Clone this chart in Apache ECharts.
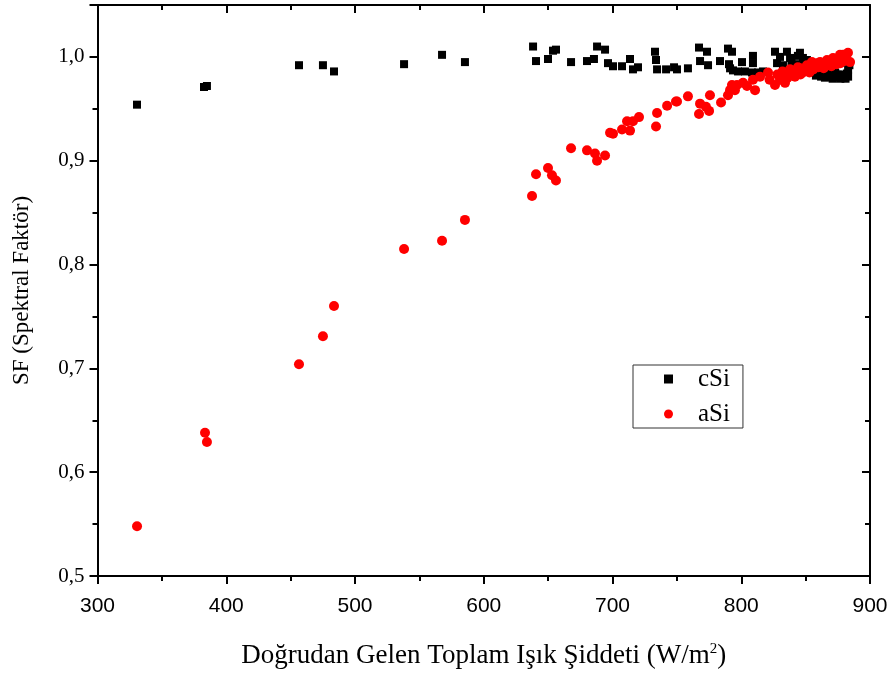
<!DOCTYPE html>
<html>
<head>
<meta charset="utf-8">
<script src="https://cdn.jsdelivr.net/npm/echarts@6/dist/echarts.min.js"></script>
<style>
html,body{margin:0;padding:0;background:#fff;}
#chart{width:894px;height:674px;}
</style>
</head>
<body>
<div id="chart"></div>
<script>
// ---- data ----
var cSiX = [330.7,382.7,385.0,456.5,475.1,483.7,538.1,567.6,585.4,638.3,640.6,649.9,653.8,656.1,667.8,680.2,685.6,688.0,694.2,696.5,700.4,707.4,713.6,715.9,719.8,733.0,733.8,734.6,741.6,747.8,750.1,758.6,767.2,773.4,768.0,774.2,783.5,789.7,792.8,790.5,791.3,793.6,800.6,797.5,802.9,809.1,809.1,808.3,813.0,816.9,826.2,830.1,835.5,837.9,845.6,847.9,827.8,832.4,839,842,844,848,851,853,855,858,856,858,860,862,864,865,867,868,869,870,871,872,873,874,875,876,877,878,879,880,881,882,883,883,884];
var cSiY = [0.954,0.971,0.972,0.992,0.992,0.986,0.993,1.002,0.995,1.010,0.996,0.998,1.006,1.007,0.995,0.996,0.998,1.010,1.007,0.994,0.991,0.991,0.998,0.988,0.990,1.005,0.997,0.988,0.988,0.990,0.988,0.989,1.009,1.005,0.996,0.992,0.996,1.008,1.005,0.993,0.989,0.987,0.995,0.986,0.986,1.001,0.994,0.985,0.985,0.986,1.005,1.000,1.005,0.999,1.004,0.999,0.994,0.992,0.996,0.993,1.001,0.995,0.997,0.992,0.989,0.993,0.985,0.982,0.986,0.981,0.984,0.980,0.983,0.986,0.981,0.984,0.979,0.982,0.985,0.980,0.983,0.981,0.979,0.983,0.980,0.982,0.979,0.984,0.981,0.988,0.992];
var aSiX = [330.7,383.5,385.0,456.5,475.1,483.7,538.1,567.6,585.4,637.5,640.6,649.9,653.0,656.1,667.8,680.2,686.4,688.0,694.2,698.1,700.4,707.4,713.6,711.3,715.9,720.6,733.8,734.6,742.4,749.3,750.1,758.6,767.2,768.0,772.6,775.0,775.7,784.3,789.7,791.3,792.8,796.7,795.1,801.4,804.5,809.1,810.7,814.6,820.8,826.2,830.1,834.0,835.5,837.9,841.7,843.3,845.6,847.9,851.0,854.9,858.8,861.2,866.6,871.3,876.7,882.9,884.5,822,828,832,836,840,844,846,849,852,853,856,857,860,862,864,866,868,870,872,874,875,877,878,880,881,879];
var aSiY = [0.548,0.638,0.629,0.704,0.731,0.760,0.815,0.823,0.843,0.866,0.887,0.893,0.886,0.881,0.912,0.910,0.907,0.900,0.905,0.927,0.926,0.930,0.929,0.938,0.938,0.942,0.933,0.946,0.953,0.957,0.957,0.962,0.945,0.955,0.952,0.948,0.963,0.956,0.963,0.968,0.973,0.973,0.968,0.975,0.972,0.978,0.968,0.981,0.985,0.973,0.978,0.975,0.985,0.988,0.981,0.986,0.989,0.985,0.992,0.995,0.994,0.995,0.997,0.999,1.002,1.004,0.995,0.978,0.983,0.986,0.980,0.984,0.990,0.983,0.987,0.990,0.985,0.988,0.992,0.990,0.993,0.989,0.992,0.994,0.991,0.995,0.993,0.997,0.994,0.998,0.996,1.000,1.002];
var xTicks = {min:300, max:900, interval:100};
var yTicks = {min:0.5, max:1.05, interval:0.1};

function pairs(xs, ys){ return xs.map(function(x,i){ return [x, ys[i]]; }); }

var serif = '"Liberation Serif","DejaVu Serif",serif';
var sans = '"Liberation Sans",Arial,sans-serif';
var axisLine = {show:true, onZero:false, lineStyle:{color:'#000', width:2}};

var chart = echarts.init(document.getElementById('chart'), null, {renderer:'canvas'});
chart.setOption({
  animation:false,
  backgroundColor:'#fff',
  grid:{left:97.5, right:24, top:5, bottom:97, containLabel:false},
  xAxis:[{
    type:'value', position:'bottom', min:xTicks.min, max:xTicks.max, interval:xTicks.interval,
    axisLine:axisLine,
    axisTick:{show:true, inside:false, length:8, lineStyle:{color:'#000', width:2}},
    minorTick:{show:true, splitNumber:2, length:5, lineStyle:{color:'#000', width:2}},
    splitLine:{show:false},
    axisLabel:{color:'#000', fontFamily:sans, fontSize:21, margin:20},
    name:'{a|Doğrudan Gelen Toplam Işık Şiddeti (W/m}{s|2}{a|)}',
    nameLocation:'middle', nameGap:66,
    nameTextStyle:{rich:{
      a:{fontFamily:serif, fontSize:27, color:'#000'},
      s:{fontFamily:serif, fontSize:15, color:'#000', verticalAlign:'top', padding:[0,0,12,0]}
    }}
  },{
    type:'value', position:'top', min:xTicks.min, max:xTicks.max, interval:xTicks.interval,
    axisLine:axisLine,
    axisTick:{show:true, inside:true, length:8, lineStyle:{color:'#000', width:2}},
    minorTick:{show:true, splitNumber:2, length:5, lineStyle:{color:'#000', width:2}},
    splitLine:{show:false}, axisLabel:{show:false}
  }],
  yAxis:[{
    type:'value', position:'left', min:yTicks.min, max:yTicks.max, interval:yTicks.interval,
    axisLine:axisLine,
    axisTick:{show:true, inside:false, length:8, lineStyle:{color:'#000', width:2}},
    minorTick:{show:true, splitNumber:2, length:5, lineStyle:{color:'#000', width:2}},
    splitLine:{show:false},
    axisLabel:{color:'#000', fontFamily:serif, fontSize:21, margin:13, showMaxLabel:false,
      formatter:function(v){ return v.toFixed(1).replace('.', ','); }},
    name:'SF (Spektral Faktör)', nameLocation:'middle', nameGap:64,
    nameTextStyle:{fontFamily:serif, fontSize:23, color:'#000'}
  },{
    type:'value', position:'right', min:yTicks.min, max:yTicks.max, interval:yTicks.interval,
    axisLine:axisLine,
    axisTick:{show:true, inside:true, length:8, lineStyle:{color:'#000', width:2}},
    minorTick:{show:true, splitNumber:2, length:5, lineStyle:{color:'#000', width:2}},
    splitLine:{show:false}, axisLabel:{show:false}
  }],
  legend:{
    orient:'vertical', left:633, top:365,
    padding:[1,13,1,31], itemGap:9,
    borderColor:'#333', borderWidth:1, backgroundColor:'#fff',
    itemWidth:9, itemHeight:9,
    textStyle:{fontFamily:serif, fontSize:25, color:'#000', lineHeight:26, padding:[0,0,0,20]},
    data:[{name:'cSi', icon:'rect'},{name:'aSi', icon:'circle'}]
  },
  series:[{
    name:'cSi', type:'scatter', xAxisIndex:0, yAxisIndex:0,
    symbol:'rect', symbolSize:8, itemStyle:{color:'#000', opacity:1},
    data:pairs(cSiX, cSiY)
  },{
    name:'aSi', type:'scatter', xAxisIndex:0, yAxisIndex:0,
    symbol:'circle', symbolSize:10, itemStyle:{color:'#ff0000', opacity:1},
    data:pairs(aSiX, aSiY)
  }]
});
</script>
</body>
</html>
